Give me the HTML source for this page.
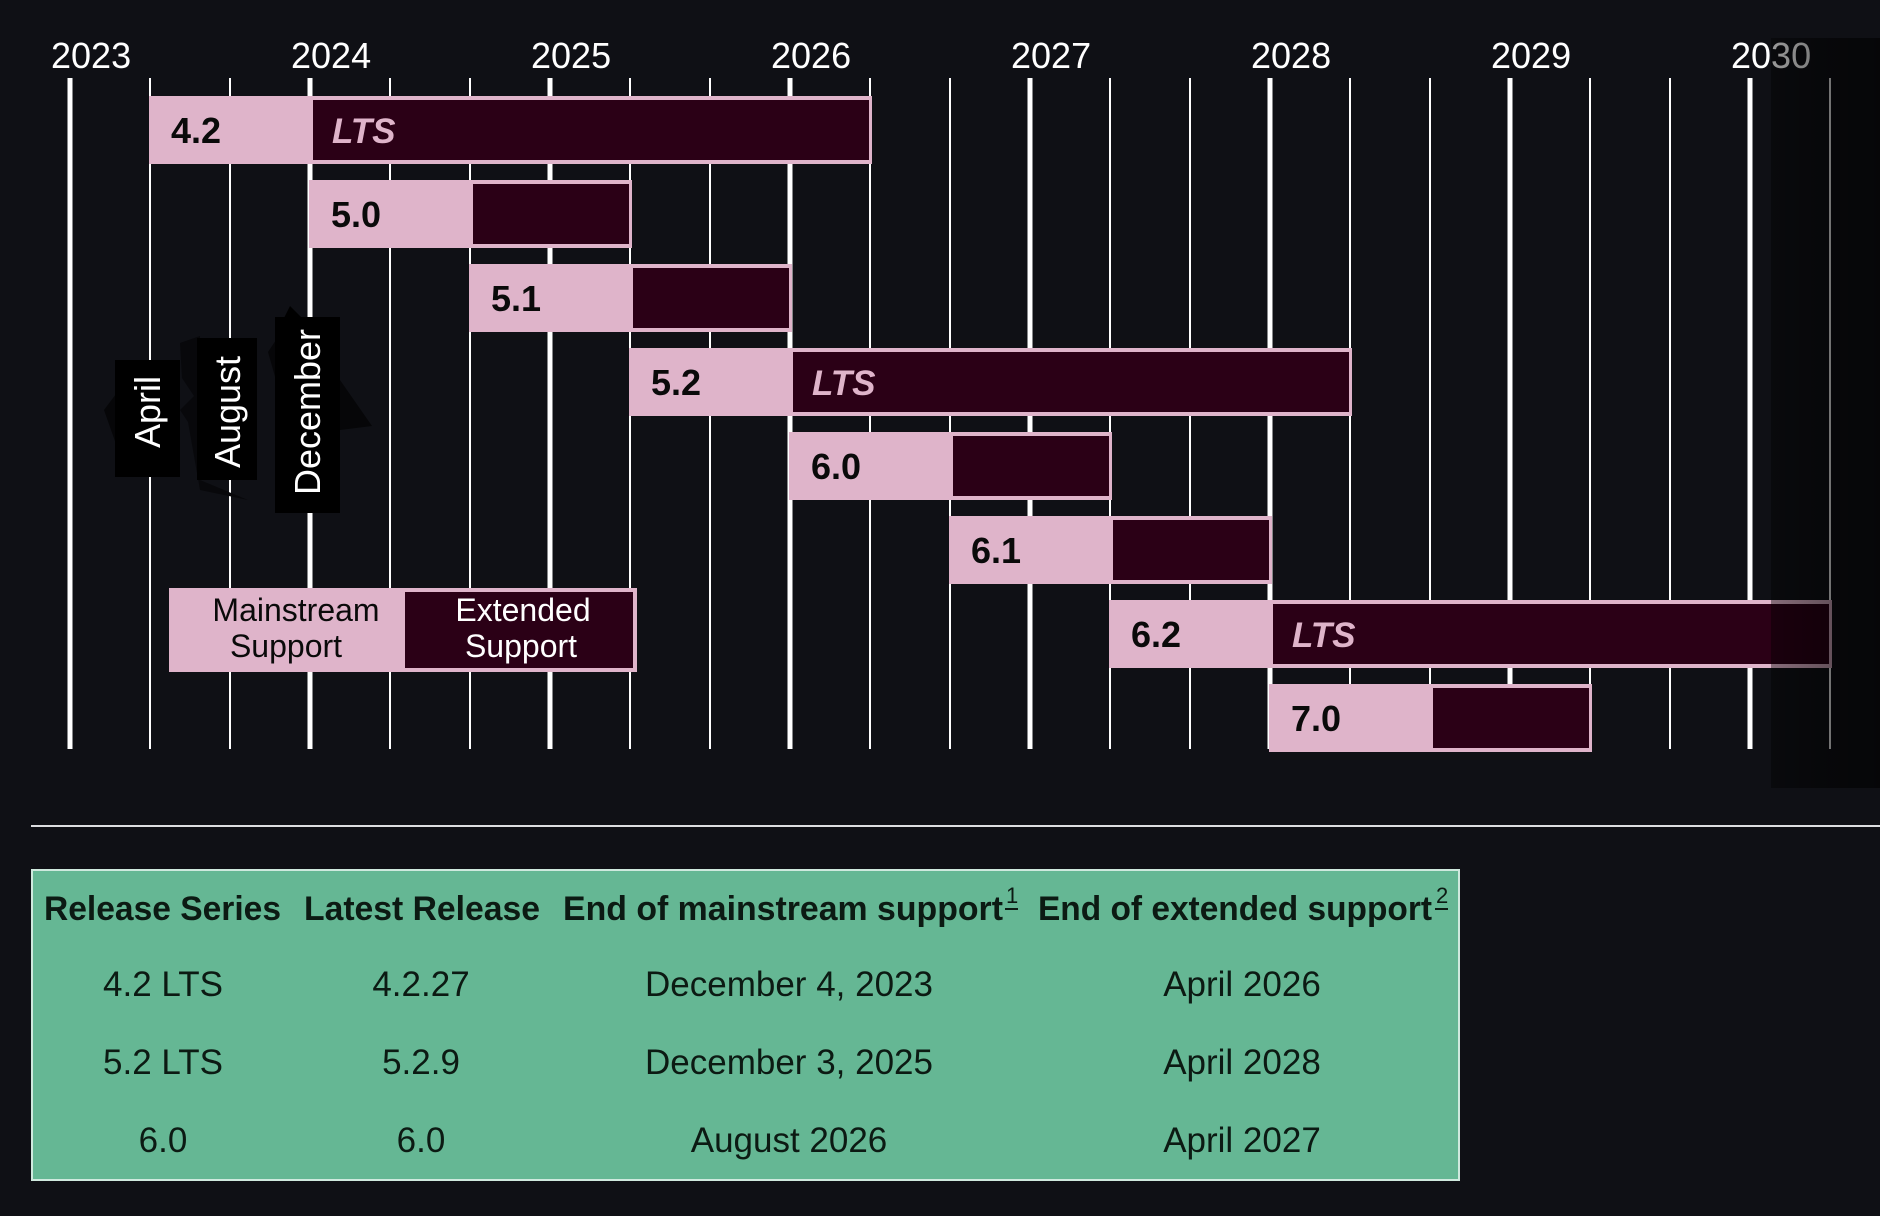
<!DOCTYPE html>
<html>
<head>
<meta charset="utf-8">
<style>
  html,body{margin:0;padding:0;background:#0f1015;}
  svg{display:block;}
  text{font-family:"Liberation Sans", Arial, sans-serif;}
</style>
</head>
<body>
<svg width="1880" height="1216" viewBox="0 0 1880 1216" xmlns="http://www.w3.org/2000/svg">
  <rect x="0" y="0" width="1880" height="1216" fill="#0f1015"/>

  <!-- Year labels -->
  <g fill="#ffffff" font-size="36">
    <text x="51" y="68">2023</text>
    <text x="291" y="68">2024</text>
    <text x="531" y="68">2025</text>
    <text x="771" y="68">2026</text>
    <text x="1011" y="68">2027</text>
    <text x="1251" y="68">2028</text>
    <text x="1491" y="68">2029</text>
    <text x="1731" y="68">2030</text>
  </g>

  <!-- Grid lines: year (thick) -->
  <g fill="#ffffff">
    <rect x="67.5" y="78" width="5" height="671"/>
    <rect x="307.5" y="78" width="5" height="671"/>
    <rect x="547.5" y="78" width="5" height="671"/>
    <rect x="787.5" y="78" width="5" height="671"/>
    <rect x="1027.5" y="78" width="5" height="671"/>
    <rect x="1267.5" y="78" width="5" height="671"/>
    <rect x="1507.5" y="78" width="5" height="671"/>
    <rect x="1747.5" y="78" width="5" height="671"/>
    <!-- month (thin) -->
    <rect x="149" y="78" width="2" height="671"/>
    <rect x="229" y="78" width="2" height="671"/>
    <rect x="389" y="78" width="2" height="671"/>
    <rect x="469" y="78" width="2" height="671"/>
    <rect x="629" y="78" width="2" height="671"/>
    <rect x="709" y="78" width="2" height="671"/>
    <rect x="869" y="78" width="2" height="671"/>
    <rect x="949" y="78" width="2" height="671"/>
    <rect x="1109" y="78" width="2" height="671"/>
    <rect x="1189" y="78" width="2" height="671"/>
    <rect x="1349" y="78" width="2" height="671"/>
    <rect x="1429" y="78" width="2" height="671"/>
    <rect x="1589" y="78" width="2" height="671"/>
    <rect x="1669" y="78" width="2" height="671"/>
    <rect x="1829" y="78" width="2" height="671"/>
  </g>

  <!-- Bars -->
  <g>
    <rect x="149" y="96" width="723" height="68" fill="#dfb4ca"/>
    <rect x="313" y="100" width="556" height="60" fill="#2b0016"/>
    <rect x="309" y="180" width="323" height="68" fill="#dfb4ca"/>
    <rect x="473" y="184" width="156" height="60" fill="#2b0016"/>
    <rect x="469" y="264" width="323" height="68" fill="#dfb4ca"/>
    <rect x="633" y="268" width="156" height="60" fill="#2b0016"/>
    <rect x="629" y="348" width="723" height="68" fill="#dfb4ca"/>
    <rect x="793" y="352" width="556" height="60" fill="#2b0016"/>
    <rect x="789" y="432" width="323" height="68" fill="#dfb4ca"/>
    <rect x="953" y="436" width="156" height="60" fill="#2b0016"/>
    <rect x="949" y="516" width="323" height="68" fill="#dfb4ca"/>
    <rect x="1113" y="520" width="156" height="60" fill="#2b0016"/>
    <rect x="1109" y="600" width="723" height="68" fill="#dfb4ca"/>
    <rect x="1273" y="604" width="556" height="60" fill="#2b0016"/>
    <rect x="1269" y="684" width="323" height="68" fill="#dfb4ca"/>
    <rect x="1433" y="688" width="156" height="60" fill="#2b0016"/>
  </g>

  <!-- Bar labels -->
  <g fill="#0a0a0a" font-size="36" font-weight="bold">
    <text x="171" y="143">4.2</text>
    <text x="331" y="227">5.0</text>
    <text x="491" y="311">5.1</text>
    <text x="651" y="395">5.2</text>
    <text x="811" y="479">6.0</text>
    <text x="971" y="563">6.1</text>
    <text x="1131" y="647">6.2</text>
    <text x="1291" y="731">7.0</text>
  </g>
  <g fill="#dfb4ca" font-size="35" font-weight="bold" font-style="italic">
    <text x="332" y="143">LTS</text>
    <text x="812" y="395">LTS</text>
    <text x="1292" y="647">LTS</text>
  </g>

  <!-- Month labels with black halo shapes -->
  <g>
    <polygon points="104,410 116,394 116,444" fill="#060608"/>
    <rect x="115" y="360" width="65" height="117" fill="#000000"/>

    <polygon points="180,343 200,336 200,480 248,500 200,490 188,422 180,410 194,396 182,378" fill="#08080b"/>
    <rect x="197" y="338" width="60" height="142" fill="#000000"/>

    <polygon points="282,322 290,306 302,318" fill="#000000"/>
    <polygon points="268,352 276,340 276,380" fill="#060608"/>
    <polygon points="340,380 372,426 340,430" fill="#060608"/>
    <rect x="275" y="317" width="65" height="196" fill="#000000"/>
  </g>
  <g fill="#ffffff" font-size="36" text-anchor="middle">
    <text transform="translate(160,412) rotate(-90)">April</text>
    <text transform="translate(240,412) rotate(-90)">August</text>
    <text transform="translate(320,412) rotate(-90)">December</text>
  </g>

  <!-- Legend -->
  <rect x="169" y="588" width="468" height="84" fill="#dfb4ca"/>
  <rect x="405" y="592" width="228" height="76" fill="#2b0016"/>
  <g font-size="32" text-anchor="middle">
    <text x="296" y="621" fill="#0a0a0a">Mainstream</text>
    <text x="286" y="657" fill="#0a0a0a">Support</text>
    <text x="523" y="621" fill="#ffffff">Extended</text>
    <text x="521" y="657" fill="#ffffff">Support</text>
  </g>

  <!-- Right dark overlay -->
  <defs>
    <linearGradient id="ov" x1="0" y1="0" x2="1" y2="0">
      <stop offset="0" stop-color="#000" stop-opacity="0.4"/>
      <stop offset="0.55" stop-color="#000" stop-opacity="0.55"/>
      <stop offset="1" stop-color="#000" stop-opacity="0.6"/>
    </linearGradient>
  </defs>
  <rect x="1771" y="38" width="109" height="750" fill="url(#ov)"/>

  <!-- Horizontal rule -->
  <rect x="31" y="825" width="1849" height="2" fill="#dcdde0"/>

  <!-- Table -->
  <rect x="32" y="870" width="1427" height="310" fill="#65b794" stroke="#cfe9de" stroke-width="2"/>
  <g fill="#0c1a13" font-size="34" font-weight="bold">
    <text x="44" y="920" textLength="237" lengthAdjust="spacingAndGlyphs">Release Series</text>
    <text x="304" y="920" textLength="236" lengthAdjust="spacingAndGlyphs">Latest Release</text>
    <text x="563" y="920" textLength="440" lengthAdjust="spacingAndGlyphs">End of mainstream support</text>
    <text x="1038" y="920" textLength="394" lengthAdjust="spacingAndGlyphs">End of extended support</text>
  </g>
  <g fill="#0c1a13" font-size="22">
    <text x="1006" y="903">1</text>
    <rect x="1005" y="908" width="13" height="2"/>
    <text x="1436" y="903">2</text>
    <rect x="1435" y="908" width="13" height="2"/>
  </g>
  <g fill="#0c1a13" font-size="35" text-anchor="middle">
    <text x="163" y="996">4.2 LTS</text>
    <text x="421" y="996">4.2.27</text>
    <text x="789" y="996">December 4, 2023</text>
    <text x="1242" y="996">April 2026</text>

    <text x="163" y="1074">5.2 LTS</text>
    <text x="421" y="1074">5.2.9</text>
    <text x="789" y="1074">December 3, 2025</text>
    <text x="1242" y="1074">April 2028</text>

    <text x="163" y="1152">6.0</text>
    <text x="421" y="1152">6.0</text>
    <text x="789" y="1152">August 2026</text>
    <text x="1242" y="1152">April 2027</text>
  </g>
</svg>
</body>
</html>
